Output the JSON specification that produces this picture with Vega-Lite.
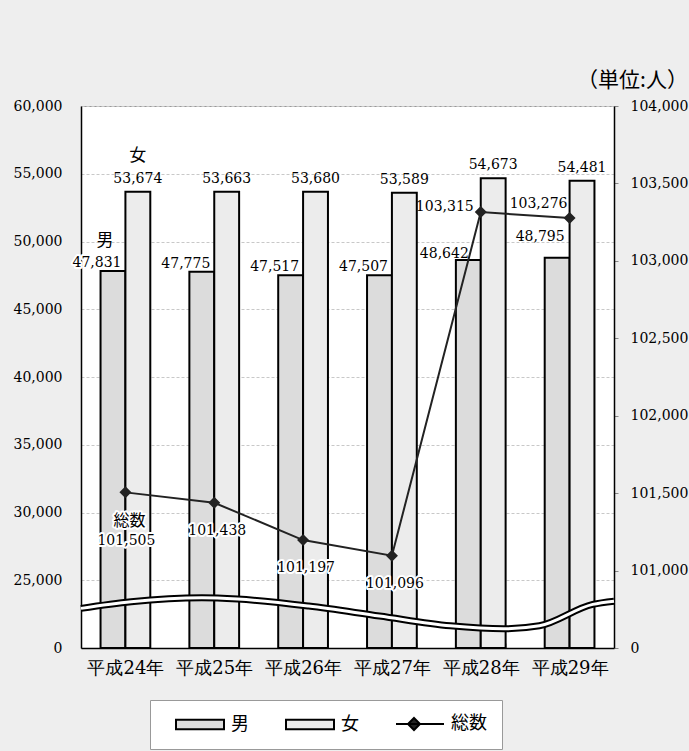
{
  "$schema": "https://vega.github.io/schema/vega-lite/v6.json",
  "width": 533,
  "height": 542,
  "autosize": {"type": "none"},
  "padding": {"left": 81, "top": 106, "right": 75, "bottom": 103},
  "background": "#eeeeee",
  "config": {
    "view": {"fill": "white", "stroke": "#999999", "strokeWidth": 1},
    "font": "DejaVu Serif",
    "text": {"font": "DejaVu Serif", "fontSize": 14, "color": "black"}
  },
  "title": {"text": "（単位:人）", "anchor": "end", "frame": "bounds", "font": "Noto Sans CJK JP", "fontSize": 21, "fontWeight": "normal", "offset": 8, "color": "black"},
  "datasets": {
    "bars": [
      {"year": "平成24年", "sex": "男", "value": 47831},
      {"year": "平成24年", "sex": "女", "value": 53674},
      {"year": "平成25年", "sex": "男", "value": 47775},
      {"year": "平成25年", "sex": "女", "value": 53663},
      {"year": "平成26年", "sex": "男", "value": 47517},
      {"year": "平成26年", "sex": "女", "value": 53680},
      {"year": "平成27年", "sex": "男", "value": 47507},
      {"year": "平成27年", "sex": "女", "value": 53589},
      {"year": "平成28年", "sex": "男", "value": 48642},
      {"year": "平成28年", "sex": "女", "value": 54673},
      {"year": "平成29年", "sex": "男", "value": 48795},
      {"year": "平成29年", "sex": "女", "value": 54481}
    ],
    "total": [
      {"year": "平成24年", "total": 101505},
      {"year": "平成25年", "total": 101438},
      {"year": "平成26年", "total": 101197},
      {"year": "平成27年", "total": 101096},
      {"year": "平成28年", "total": 103315},
      {"year": "平成29年", "total": 103276}
    ],
    "wave": [
      {"t": 0, "v": 22925},
      {"t": 0.094, "v": 23412},
      {"t": 0.227, "v": 23707},
      {"t": 0.294, "v": 23611},
      {"t": 0.427, "v": 23094},
      {"t": 0.56, "v": 22363},
      {"t": 0.693, "v": 21640},
      {"t": 0.793, "v": 21418},
      {"t": 0.86, "v": 21640},
      {"t": 0.96, "v": 23220},
      {"t": 1, "v": 23456}
    ]
  },
  "layer": [
    {
      "data": {"name": "bars"},
      "encoding": {
        "x": {
          "field": "year", "type": "nominal", "sort": null,
          "scale": {"domain": ["平成24年", "平成25年", "平成26年", "平成27年", "平成28年", "平成29年"], "paddingInner": 0.44, "paddingOuter": 0.22},
          "axis": {"title": null, "labelAngle": 0, "labelFont": "DejaVu Serif", "labelFontSize": 18, "labelFontWeight": "normal", "labelColor": "black", "labelPadding": 16, "domainColor": "black", "domainWidth": 1.5, "tickBand": "extent", "tickSize": -5, "tickColor": "#bbbbbb", "grid": false}
        },
        "xOffset": {"field": "sex", "type": "nominal", "scale": {"domain": ["男", "女"], "paddingInner": 0, "paddingOuter": 0}},
        "y": {
          "field": "value", "type": "quantitative",
          "scale": {"domain": [20000, 60000], "nice": false, "zero": false},
          "axis": {"orient": "left", "title": null, "values": [20000, 25000, 30000, 35000, 40000, 45000, 50000, 55000, 60000], "labelExpr": "datum.value == 20000 ? '0' : format(datum.value, ',')", "labelFontSize": 14, "labelFont": "DejaVu Serif", "labelColor": "black", "labelPadding": 19, "ticks": false, "domainColor": "black", "domainWidth": 1.5, "grid": true, "gridColor": "#c8c8c8", "gridDash": [3, 2], "gridWidth": 1}
        }
      },
      "layer": [
        {
          "mark": {"type": "bar", "stroke": "black", "strokeWidth": 2},
          "encoding": {
            "y2": {"datum": 20000},
            "fill": {
              "field": "sex", "type": "nominal",
              "scale": {"domain": ["男", "女", "総数"], "range": ["#dcdcdc", "#ececec", "#222222"]},
              "legend": {
                "orient": "none", "legendX": 69, "legendY": 594, "direction": "horizontal", "columns": 3,
                "title": null, "padding": 15, "fillColor": "white", "strokeColor": "#999999",
                "labelFont": "Noto Sans CJK JP", "labelFontSize": 18, "labelColor": "black",
                "symbolSize": 144, "symbolStrokeColor": "black", "symbolStrokeWidth": 2, "symbolOffset": 8,
                "labelOffset": 40, "columnPadding": 26,
                "encode": {"symbols": {"update": {"shape": {"signal": "datum.value === '総数' ? 'M-1,0H7M2,-1L3,0L2,1L1,0Z' : 'M-1,-0.8H7V0.8H-1Z'"}}}}
              }
            }
          }
        },
        {
          "transform": [{"filter": "datum.sex == '女'"}],
          "mark": {"type": "text", "dy": -9, "align": "center", "baseline": "alphabetic"},
          "encoding": {"text": {"field": "value", "type": "quantitative", "format": ","}}
        },
        {
          "transform": [{"filter": "datum.sex == '男' && indexof(['平成24年','平成25年','平成26年','平成27年'], datum.year) >= 0"}],
          "layer": [
            {"mark": {"type": "text", "dx": -16, "dy": -4, "align": "center", "baseline": "alphabetic", "stroke": "white", "strokeWidth": 4, "strokeJoin": "round", "fill": "white"}},
            {"mark": {"type": "text", "dx": -16, "dy": -4, "align": "center", "baseline": "alphabetic"}}
          ],
          "encoding": {"text": {"field": "value", "type": "quantitative", "format": ","}}
        },
        {
          "transform": [{"filter": "datum.sex == '男' && datum.year == '平成28年'"}],
          "mark": {"type": "text", "dx": -24, "dy": -2, "align": "center", "baseline": "alphabetic"},
          "encoding": {"text": {"field": "value", "type": "quantitative", "format": ","}}
        },
        {
          "transform": [{"filter": "datum.sex == '男' && datum.year == '平成29年'"}],
          "mark": {"type": "text", "dx": -17, "dy": -17, "align": "center", "baseline": "alphabetic"},
          "encoding": {"text": {"field": "value", "type": "quantitative", "format": ","}}
        },
        {
          "transform": [{"filter": "datum.sex == '男' && datum.year == '平成24年'"}],
          "mark": {"type": "text", "dx": -8, "dy": -25, "align": "center", "baseline": "alphabetic", "fontSize": 17, "font": "Noto Sans CJK JP"},
          "encoding": {"text": {"field": "sex"}}
        },
        {
          "transform": [{"filter": "datum.sex == '女' && datum.year == '平成24年'"}],
          "mark": {"type": "text", "dx": 0, "dy": -31, "align": "center", "baseline": "alphabetic", "fontSize": 17, "font": "Noto Sans CJK JP"},
          "encoding": {"text": {"field": "sex"}}
        }
      ]
    },
    {
      "data": {"name": "wave"},
      "encoding": {
        "x": {"field": "t", "type": "quantitative", "scale": {"domain": [0, 1], "nice": false, "zero": false}, "axis": null},
        "y": {"field": "v", "type": "quantitative", "scale": {"domain": [20000, 60000], "nice": false, "zero": false}, "axis": null}
      },
      "layer": [
        {"mark": {"type": "line", "color": "black", "strokeWidth": 7, "interpolate": "monotone"}},
        {"mark": {"type": "line", "color": "white", "strokeWidth": 3, "interpolate": "monotone"}}
      ]
    },
    {
      "data": {"name": "total"},
      "encoding": {
        "x": {"field": "year", "type": "nominal", "sort": null, "scale": {"domain": ["平成24年", "平成25年", "平成26年", "平成27年", "平成28年", "平成29年"], "paddingInner": 0.44, "paddingOuter": 0.22}, "axis": null},
        "y": {
          "field": "total", "type": "quantitative",
          "scale": {"domain": [100500, 104000], "nice": false, "zero": false},
          "axis": {"orient": "right", "title": null, "values": [100500, 101000, 101500, 102000, 102500, 103000, 103500, 104000], "labelExpr": "datum.value == 100500 ? '0' : format(datum.value, ',')", "labelFontSize": 14, "labelFont": "DejaVu Serif", "labelColor": "black", "labelPadding": 12, "ticks": true, "tickSize": 4, "tickColor": "#888888", "domainColor": "black", "domainWidth": 1.5, "grid": false}
        }
      },
      "layer": [
        {"mark": {"type": "line", "color": "#222222", "strokeWidth": 2}},
        {"mark": {"type": "point", "shape": "diamond", "filled": true, "color": "#222222", "size": 144, "opacity": 1}},
        {
          "transform": [{"filter": "indexof(['平成25年','平成26年','平成27年'], datum.year) >= 0"}],
          "layer": [
            {"mark": {"type": "text", "dx": 3, "dy": 32, "align": "center", "baseline": "alphabetic", "stroke": "white", "strokeWidth": 4, "strokeJoin": "round", "fill": "white"}},
            {"mark": {"type": "text", "dx": 3, "dy": 32, "align": "center", "baseline": "alphabetic"}}
          ],
          "encoding": {"text": {"field": "total", "type": "quantitative", "format": ","}}
        },
        {
          "transform": [{"filter": "datum.year == '平成24年'"}],
          "layer": [
            {"mark": {"type": "text", "dx": 1, "dy": 53, "align": "center", "baseline": "alphabetic", "stroke": "white", "strokeWidth": 4, "strokeJoin": "round", "fill": "white"}, "encoding": {"text": {"field": "total", "type": "quantitative", "format": ","}}},
            {"mark": {"type": "text", "dx": 1, "dy": 53, "align": "center", "baseline": "alphabetic"}, "encoding": {"text": {"field": "total", "type": "quantitative", "format": ","}}},
            {"mark": {"type": "text", "dx": 4, "dy": 34, "align": "center", "baseline": "alphabetic", "stroke": "white", "strokeWidth": 4, "strokeJoin": "round", "fill": "white", "text": "総数", "font": "Noto Sans CJK JP", "fontSize": 16}},
            {"mark": {"type": "text", "dx": 4, "dy": 34, "align": "center", "baseline": "alphabetic", "text": "総数", "font": "Noto Sans CJK JP", "fontSize": 16}}
          ]
        },
        {
          "transform": [{"filter": "datum.year == '平成28年'"}],
          "mark": {"type": "text", "dx": -7, "dy": -1, "align": "right", "baseline": "alphabetic"},
          "encoding": {"text": {"field": "total", "type": "quantitative", "format": ","}}
        },
        {
          "transform": [{"filter": "datum.year == '平成29年'"}],
          "mark": {"type": "text", "dx": -31, "dy": -10, "align": "center", "baseline": "alphabetic"},
          "encoding": {"text": {"field": "total", "type": "quantitative", "format": ","}}
        }
      ]
    }
  ],
  "resolve": {"scale": {"x": "independent", "y": "independent"}, "axis": {"x": "independent", "y": "independent"}}
}
